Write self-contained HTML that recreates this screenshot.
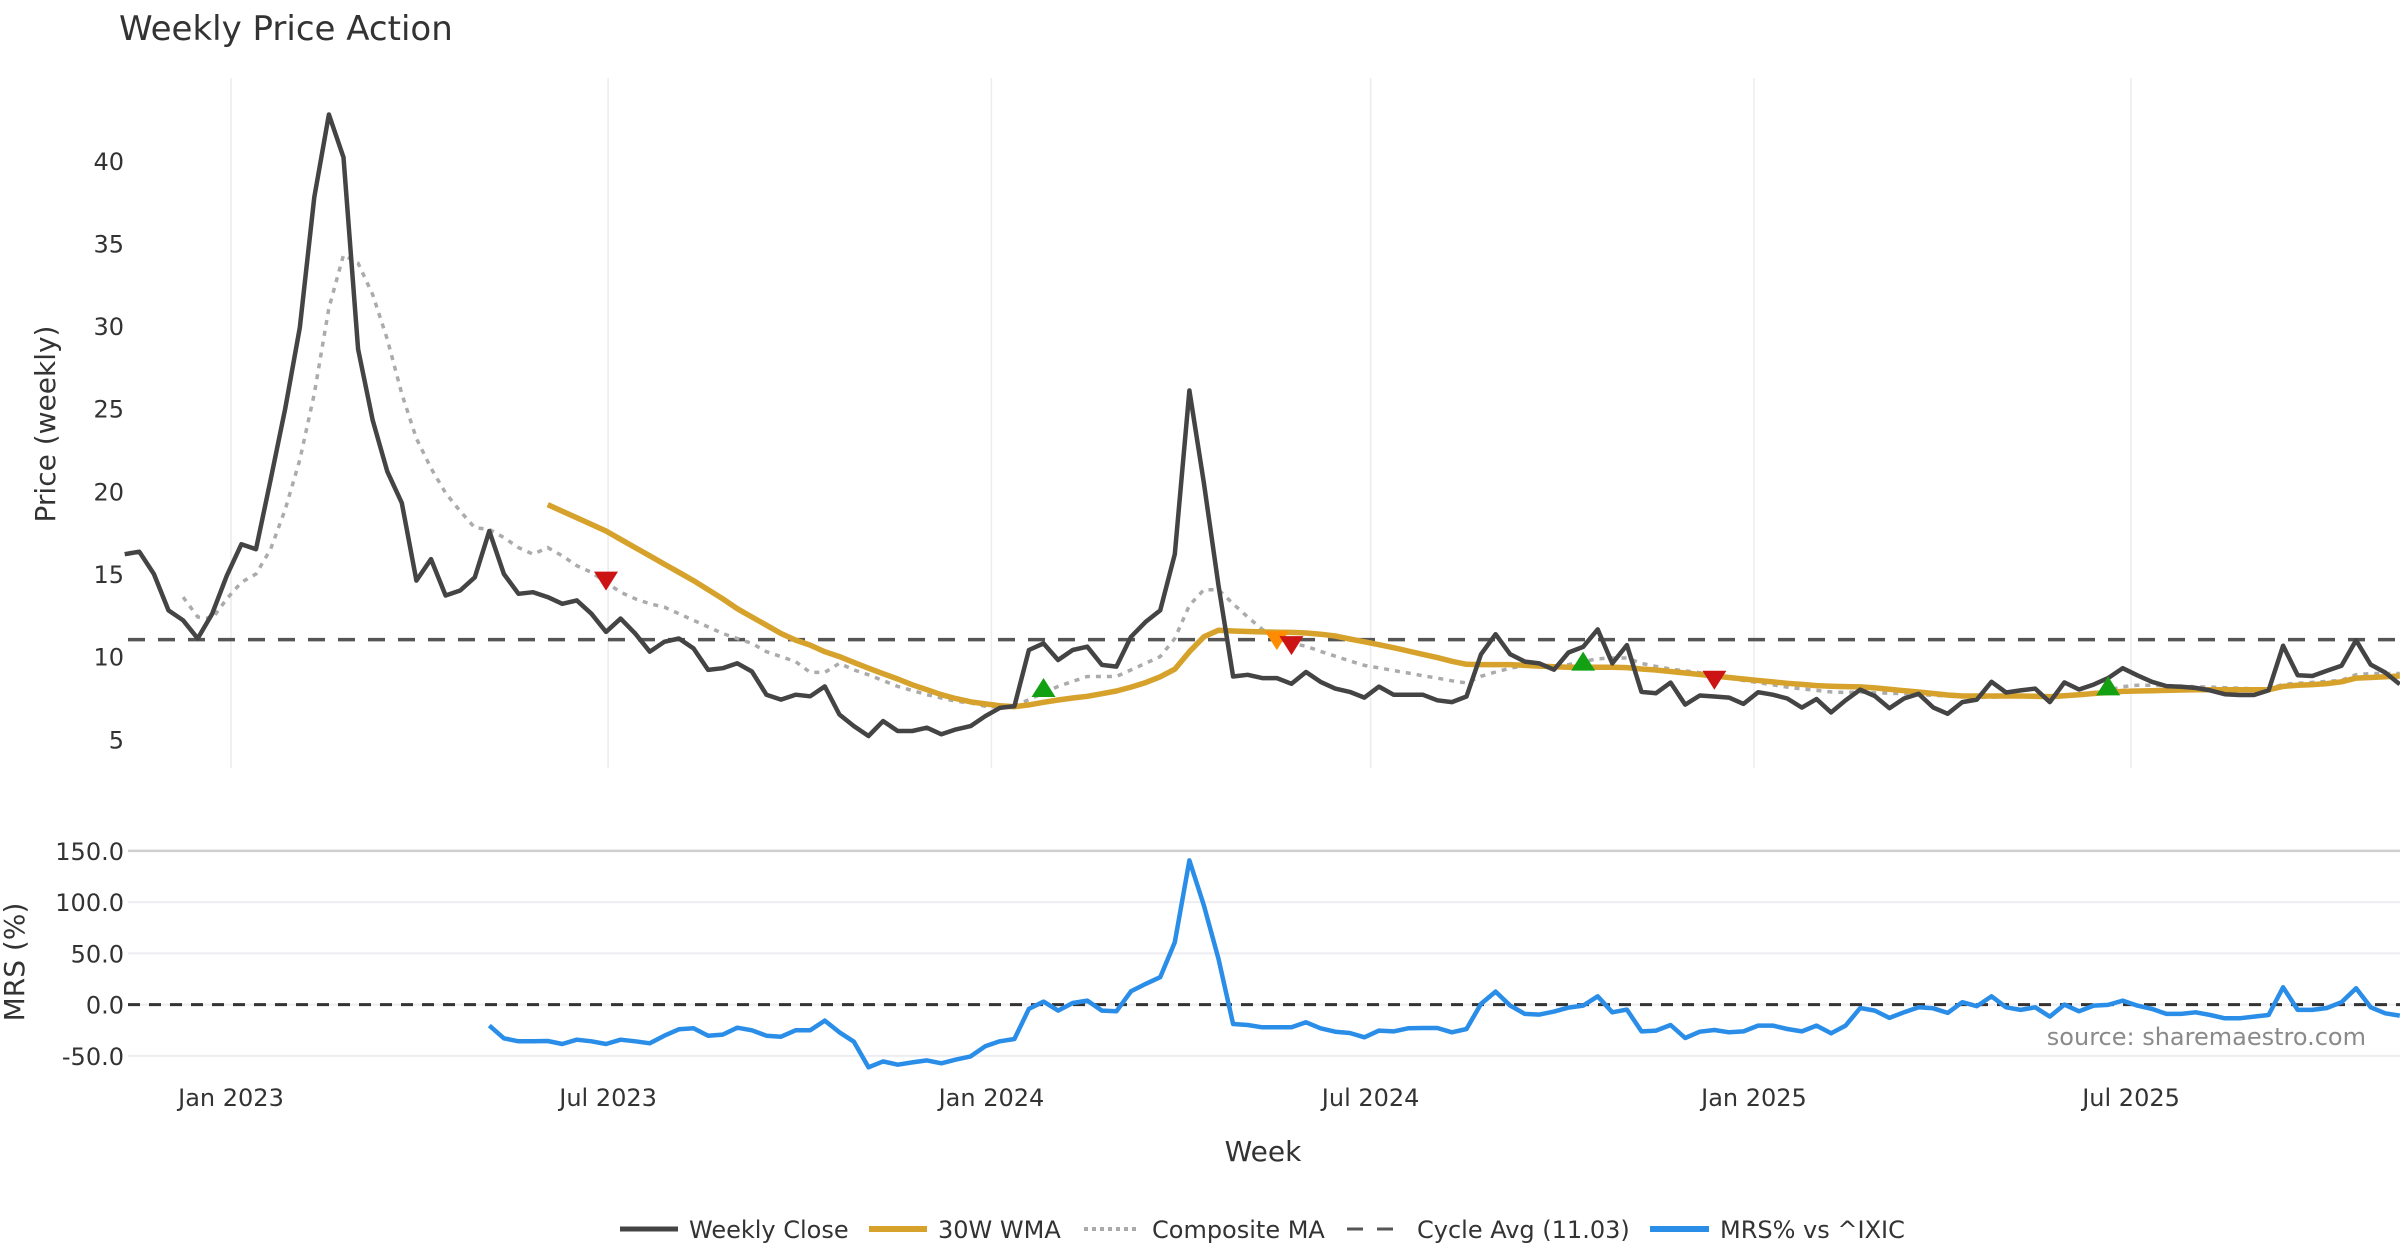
<!DOCTYPE html>
<html><head><meta charset="utf-8"><title>Weekly Price Action</title>
<style>
html,body{margin:0;padding:0;background:#fff;}
svg{display:block;font-family:"DejaVu Sans","Liberation Sans",sans-serif;}
</style></head>
<body>
<svg id="chart" width="2400" height="1260" viewBox="0 0 2400 1260">
<text x="119" y="40" font-size="34" fill="#333">Weekly Price Action</text>
<g id="grid"></g>
<g id="axes"></g>
<g id="series"></g>
<text x="0" y="0" transform="translate(55,424) rotate(-90)" text-anchor="middle" font-size="28" fill="#333">Price (weekly)</text>
<text x="0" y="0" transform="translate(24,962) rotate(-90)" text-anchor="middle" font-size="28" fill="#333">MRS (%)</text>
<text x="1263" y="1161" text-anchor="middle" font-size="28" fill="#333">Week</text>
<text x="2366" y="1045" text-anchor="end" font-size="24" fill="#8a8a8a">source: sharemaestro.com</text>
<g id="legend">
  <g>
    <line x1="620" y1="1229" x2="678" y2="1229" stroke="#444" stroke-width="5"/>
    <text x="689" y="1238" font-size="24" fill="#333">Weekly Close</text>
  </g>
  <g>
    <line x1="869" y1="1229" x2="927" y2="1229" stroke="#d6a22b" stroke-width="6"/>
    <text x="938" y="1238" font-size="24" fill="#333">30W WMA</text>
  </g>
  <g>
    <line x1="1084" y1="1229" x2="1139" y2="1229" stroke="#aaa" stroke-width="4" stroke-dasharray="4 4"/>
    <text x="1152" y="1238" font-size="24" fill="#333">Composite MA</text>
  </g>
  <g>
    <line x1="1347" y1="1229" x2="1401" y2="1229" stroke="#555" stroke-width="3" stroke-dasharray="16 14"/>
    <text x="1417" y="1238" font-size="24" fill="#333">Cycle Avg (11.03)</text>
  </g>
  <g>
    <line x1="1650" y1="1229" x2="1709" y2="1229" stroke="#2a8ee8" stroke-width="6"/>
    <text x="1720" y="1238" font-size="24" fill="#333">MRS% vs ^IXIC</text>
  </g>
</g>
</svg>
<script>
// ---- data ----
const startDate = "2022-11-11";
const closeVals = [16.2,16.35,15.0,12.8,12.2,11.1,12.6,14.9,16.8,16.5,
20.7,25.0,29.9,37.8,42.8,40.2,28.6,24.3,21.2,19.3,
14.6,15.9,13.7,14.0,14.8,17.6,15.0,13.8,13.9,13.6,
13.2,13.4,12.6,11.5,12.3,11.4,10.3,10.9,11.1,10.5,
9.2,9.3,9.6,9.1,7.7,7.4,7.7,7.6,8.2,6.5,
5.8,5.2,6.1,5.5,5.5,5.7,5.3,5.6,5.8,6.4,
6.9,7.0,10.4,10.8,9.8,10.4,10.6,9.5,9.4,11.2,
12.1,12.8,16.2,26.1,20.5,14.3,8.8,8.9,8.7,8.7,
8.36,9.07,8.47,8.07,7.87,7.52,8.19,7.7,7.7,7.7,
7.36,7.25,7.59,10.14,11.36,10.14,9.7,9.59,9.21,10.25,
10.59,11.65,9.59,10.7,7.87,7.79,8.43,7.1,7.65,7.59,
7.52,7.14,7.85,7.7,7.47,6.92,7.43,6.63,7.36,8.0,
7.62,6.88,7.47,7.75,6.93,6.54,7.25,7.4,8.48,7.83,
7.96,8.07,7.25,8.44,8.01,8.31,8.7,9.3,8.87,8.48,
8.22,8.18,8.11,7.96,7.73,7.68,7.68,7.96,10.66,8.87,
8.83,9.15,9.45,10.99,9.52,9.04,8.33];
const wmaVals = [null,null,null,null,null,null,null,null,null,null,
null,null,null,null,null,null,null,null,null,null,
null,null,null,null,null,null,null,null,null,19.2,
18.8,18.4,18.0,17.6,17.1,16.6,16.1,15.6,15.1,14.6,
14.05,13.5,12.9,12.4,11.9,11.4,11.0,10.7,10.3,10.0,
9.65,9.3,8.97,8.65,8.3,8.0,7.7,7.46,7.27,7.14,
7.03,6.97,7.08,7.24,7.38,7.5,7.6,7.76,7.92,8.16,
8.43,8.78,9.24,10.3,11.2,11.6,11.55,11.52,11.5,11.48,
11.47,11.43,11.36,11.25,11.07,10.9,10.72,10.54,10.34,10.14,
9.94,9.72,9.54,9.52,9.52,9.52,9.47,9.43,9.39,9.36,
9.36,9.36,9.36,9.34,9.25,9.19,9.1,9.01,8.92,8.83,
8.74,8.65,8.56,8.47,8.39,8.32,8.25,8.21,8.19,8.17,
8.11,8.03,7.94,7.86,7.77,7.68,7.62,7.62,7.62,7.62,
7.62,7.6,7.57,7.64,7.7,7.77,7.83,7.9,7.92,7.94,
7.96,7.98,8.0,8.0,8.0,8.0,8.0,8.0,8.2,8.27,
8.31,8.37,8.48,8.7,8.74,8.79,8.83];
const compositeVals = [null,null,null,null,13.6,12.4,12.3,13.5,14.5,15.0,
16.5,18.9,21.9,25.9,31.1,34.3,33.8,31.9,29.2,25.9,
23.2,21.4,19.9,18.8,17.8,17.7,17.2,16.6,16.2,16.6,
16.1,15.5,15.1,14.5,13.9,13.5,13.2,13.0,12.6,12.2,
11.8,11.4,11.1,10.8,10.3,10.0,9.7,9.05,9.05,9.6,
9.2,8.9,8.55,8.2,7.95,7.7,7.5,7.3,7.2,7.0,
6.95,7.0,7.4,7.8,8.2,8.5,8.8,8.8,8.8,9.2,
9.6,10.0,11.1,13.1,14.05,14.05,13.2,12.4,11.65,11.1,
10.81,10.63,10.32,10.03,9.74,9.47,9.32,9.16,9.01,8.85,
8.7,8.54,8.41,8.81,9.07,9.3,9.45,9.45,9.43,9.52,
9.7,9.87,9.92,9.92,9.59,9.41,9.25,9.14,9.03,8.85,
8.7,8.56,8.43,8.3,8.16,8.05,7.96,7.87,7.83,7.86,
7.81,7.79,7.75,7.7,7.66,7.62,7.57,7.53,7.55,7.57,
7.6,7.62,7.64,7.68,7.75,7.83,7.96,8.18,8.27,8.27,
8.25,8.22,8.18,8.16,8.12,8.09,8.05,8.05,8.33,8.39,
8.44,8.5,8.57,8.91,8.98,8.98,8.98];
const mrsVals = [null,null,null,null,null,null,null,null,null,null,
null,null,null,null,null,null,null,null,null,null,
null,null,null,null,null,-20.5,-32.9,-35.8,-35.8,-35.5,
-38.4,-34.2,-35.8,-38.4,-34.2,-35.8,-37.8,-30.3,-24.1,-23.1,
-30.3,-29.3,-22.5,-25.1,-30.3,-31.3,-25.1,-25.1,-15.6,-27.0,
-36.2,-61.2,-55.4,-58.6,-56.4,-54.4,-57.3,-53.7,-50.5,-40.7,
-35.8,-33.6,-4.2,2.9,-5.9,1.6,3.9,-5.9,-6.5,13.0,
20.2,26.7,60.9,140.7,96.7,44.6,-18.9,-19.9,-22.1,-22.1,
-22.1,-17.3,-23.1,-26.4,-27.7,-31.9,-25.4,-26.1,-23.1,-22.8,
-22.8,-27.0,-23.8,0.7,12.7,-1.0,-9.1,-9.8,-6.8,-2.9,
-1.0,8.1,-7.5,-4.9,-26.1,-25.4,-19.9,-32.6,-26.4,-24.8,
-27.0,-26.1,-20.5,-20.5,-23.8,-26.1,-20.5,-28.0,-20.5,-3.3,
-5.9,-13.0,-7.5,-2.6,-3.6,-8.1,2.3,-1.6,8.1,-2.6,
-5.2,-2.6,-11.7,0,-6.5,-1.0,-0.3,3.9,-1.0,-4.2,
-9.1,-9.1,-7.5,-10.1,-13.4,-13.4,-11.7,-10.1,16.9,-5.2,
-5.2,-3.3,2.3,16.0,-2.6,-8.5,-10.7];
const cycleAvg = 11.03;
const markerIdx = [33,63,79,80,100,109,136];
const markerVals = [14.6,8.1,11.0,10.7,9.7,8.6,8.2];
const markerTypes = ["sell","buy","warn","sell","buy","sell","buy"];
const priceTicks = [5,10,15,20,25,30,35,40];
const mrsTicks = [-50,0,50,100,150];
const mrsTickLabels = ["-50.0","0.0","50.0","100.0","150.0"];
const dateTicks = ["2023-01-01","2023-07-01","2024-01-01","2024-07-01","2025-01-01","2025-07-01"];
const dateTickLabels = ["Jan 2023","Jul 2023","Jan 2024","Jul 2024","Jan 2025","Jul 2025"];

// ---- axes ----
const NS = "http://www.w3.org/2000/svg";
const DAY = 86400000;
const refDate = Date.parse("2023-01-01");
function xDate(ms){ return 231 + (ms - refDate)/DAY * 2.0834; }
function xIdx(i){ return xDate(Date.parse(startDate) + i*7*DAY); }
function yPrice(v){ return 739.3 - (v-5)*16.53; }
function yMrs(v){ return 1004.6 - v*1.025; }
function mk(tag, attrs, parent){
  const e = document.createElementNS(NS, tag);
  for (const k in attrs) e.setAttribute(k, attrs[k]);
  parent.appendChild(e);
  return e;
}
const grid = document.getElementById('grid');
const axes = document.getElementById('axes');
const series = document.getElementById('series');

dateTicks.forEach((d,k)=>{
  const x = xDate(Date.parse(d));
  const gl = mk('line',{x1:x,y1:78,x2:x,y2:768,stroke:'#ececf0','stroke-width':1.5},grid);
  
  
  const t = mk('text',{x:x,y:1106,'text-anchor':'middle','font-size':24,fill:'#333'},axes);
  t.textContent = dateTickLabels[k];
  
  
});
priceTicks.forEach(v=>{
  const t = mk('text',{x:124,y:yPrice(v)+9,'text-anchor':'end','font-size':24,fill:'#333'},axes);
  t.textContent = String(v);
  
  
});
mrsTicks.forEach((v,k)=>{
  const y = yMrs(v);
  const gl = mk('line',{x1:128,y1:y,x2:2400,y2:y,stroke:v===150?'#cfcfcf':'#eeeef2','stroke-width':v===150?2.5:2},grid);
  
  
  const t = mk('text',{x:124,y:y+9,'text-anchor':'end','font-size':24,fill:'#333'},axes);
  t.textContent = mrsTickLabels[k];
  
  
});

function pathFrom(vals, yf){
  let d = '', pen = false;
  vals.forEach((v,i)=>{
    if (v === null || v === undefined){ pen = false; return; }
    d += (pen ? 'L' : 'M') + xIdx(i).toFixed(1) + ',' + yf(v).toFixed(1);
    pen = true;
  });
  return d;
}

const ca = mk('line',{x1:128,y1:yPrice(cycleAvg),x2:2400,y2:yPrice(cycleAvg),stroke:'#555','stroke-width':3.5,'stroke-dasharray':'17 13'},series);


const z = mk('line',{x1:128,y1:yMrs(0),x2:2400,y2:yMrs(0),stroke:'#333','stroke-width':3,'stroke-dasharray':'12 9'},series);



const comp = mk('path',{d:pathFrom(compositeVals,yPrice),fill:'none',stroke:'#ababab','stroke-width':3.5,'stroke-dasharray':'5 6'},series);


const wma = mk('path',{d:pathFrom(wmaVals,yPrice),fill:'none',stroke:'#d6a22b','stroke-width':5.5,'stroke-linejoin':'round'},series);


const cl = mk('path',{d:pathFrom(closeVals,yPrice),fill:'none',stroke:'#444','stroke-width':4.5,'stroke-linejoin':'round'},series);


const mrs = mk('path',{d:pathFrom(mrsVals,yMrs),fill:'none',stroke:'#2a8ee8','stroke-width':4.5,'stroke-linejoin':'round'},series);



const colors = {sell:'#cc1414',buy:'#13a013',warn:'#ff8c00'};
markerIdx.forEach((idx,k)=>{
  const x = xIdx(idx), y = yPrice(markerVals[k]), t = markerTypes[k];
  const pts = t === 'buy'
    ? [[x-12,y+9],[x+12,y+9],[x,y-10]]
    : [[x-12,y-9],[x+12,y-9],[x,y+10]];
  const p = mk('polygon',{points:pts.map(q=>q.join(',')).join(' '),fill:colors[t]},series);
  
  
});
</script>
</body></html>
